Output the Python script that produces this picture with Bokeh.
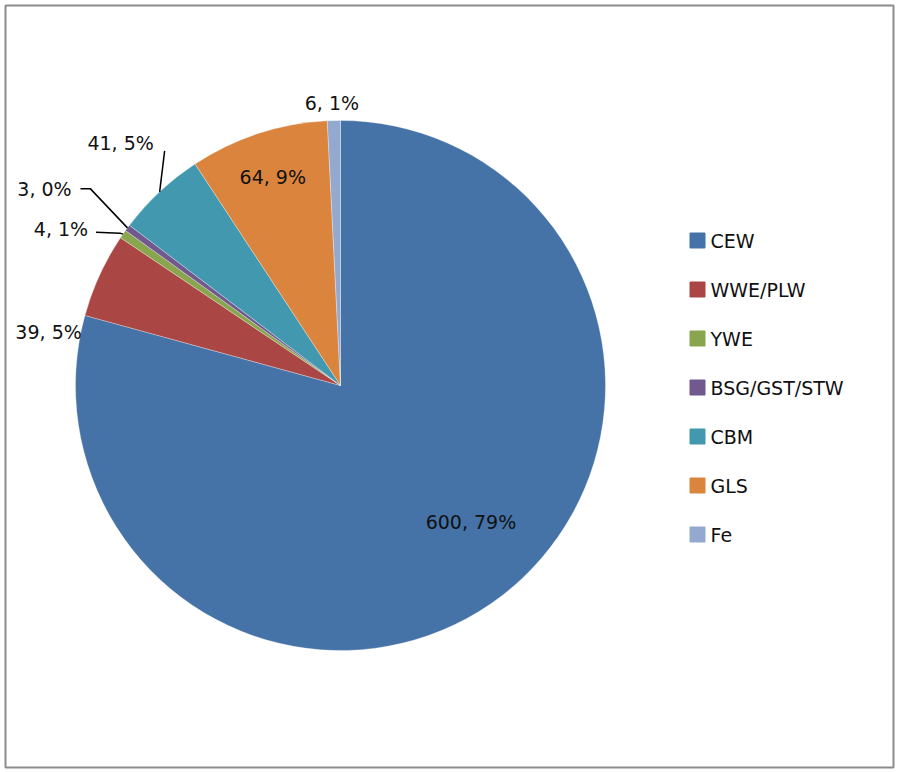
import numpy as np
from bokeh.plotting import figure
from bokeh.models import Range1d, ColumnDataSource
from bokeh.core.properties import value
from bokeh.embed import file_html
from bokeh.resources import INLINE

# ---- data ----
categories = ["CEW", "WWE/PLW", "YWE", "BSG/GST/STW", "CBM", "GLS", "Fe"]
counts = [600, 39, 4, 3, 41, 64, 6]
pct_labels = ["79%", "5%", "1%", "0%", "5%", "9%", "1%"]
colors = ["#4572A7", "#AA4643", "#89A54E", "#71588F", "#4198AF", "#DB843D", "#93A9CF"]

# ---- layout ----
W, H = 900, 772
CX, CY = 340, H - 385          # pie centre (data coords, y up)
R = 265
FONT = "DejaVu Sans"
FS = "19px"
# label placement: (radius factor, dx, dy in screen px, y down)
label_place = [(0.65, 26, 0), (1.0, -51, 57), (1.0, -62, -5), (1.0, -83, -39),
               (1.0, -39, -49), (0.8, -2, -7), (1.0, -2, -18)]

vals = np.array(counts, dtype=float)
theta_end = np.cumsum(vals) / vals.sum() * 2 * np.pi
theta_start = np.concatenate([[0.0], theta_end[:-1]])
theta_mid = (theta_start + theta_end) / 2

src = ColumnDataSource(dict(
    start=np.pi / 2 - theta_start,
    end=np.pi / 2 - theta_end,
    color=colors,
))

p = figure(width=W, height=H, output_backend="svg", toolbar_location=None,
           x_range=Range1d(5, 893), y_range=Range1d(5, 767),
           x_axis_location=None, y_axis_location=None,
           min_border_left=5, min_border_right=7, min_border_top=5, min_border_bottom=5)
p.grid.visible = False
p.outline_line_color = "#8c8c8c"
p.outline_line_width = 2
p.background_fill_color = "white"
p.border_fill_color = "white"

p.wedge(x=CX, y=CY, radius=R, start_angle="start", end_angle="end",
        direction="clock", fill_color="color", line_color="white",
        line_width=0.6, line_alpha=0.5, source=src)


def polar(theta, rr):
    return CX + rr * np.sin(theta), CY + rr * np.cos(theta)


lx, ly, lt = [], [], []
for i, (f, dx, dy) in enumerate(label_place):
    x, y = polar(theta_mid[i], R * f)
    lx.append(x + dx)
    ly.append(y - dy)
    lt.append(f"{counts[i]}, {pct_labels[i]}")

p.text(x=lx, y=ly, text=lt, text_font=value(FONT), text_font_size=FS,
       text_align="center", text_baseline="middle", text_color="#111111")

# leader lines for outside labels (YWE, BSG, CBM)
xs, ys = [], []
# YWE
ex, ey = polar(theta_mid[2], R)
xs.append([ex, ex - 3, lx[2] + 35]); ys.append([ey, ey + 1, ly[2] - 3])
# BSG
ex, ey = polar(theta_mid[3], R)
xs.append([ex, lx[3] + 46, lx[3] + 36]); ys.append([ey, ly[3], ly[3]])
# CBM
ex, ey = polar(theta_mid[4], R)
xs.append([ex, lx[4] + 44]); ys.append([ey, ly[4] - 8])
p.multi_line(xs=xs, ys=ys, line_color="black", line_width=1.5)

# legend
leg_y = [H - (240 + 49 * i) for i in range(len(categories))]
p.scatter(x=[697] * len(categories), y=leg_y, marker="square", size=15,
          fill_color=colors, line_color=colors)
p.text(x=[710] * len(categories), y=leg_y, text=categories, text_font=value(FONT),
       text_font_size=FS, text_align="left", text_baseline="middle", text_color="#111111")

open("out.html", "w").write(file_html(p, INLINE))
